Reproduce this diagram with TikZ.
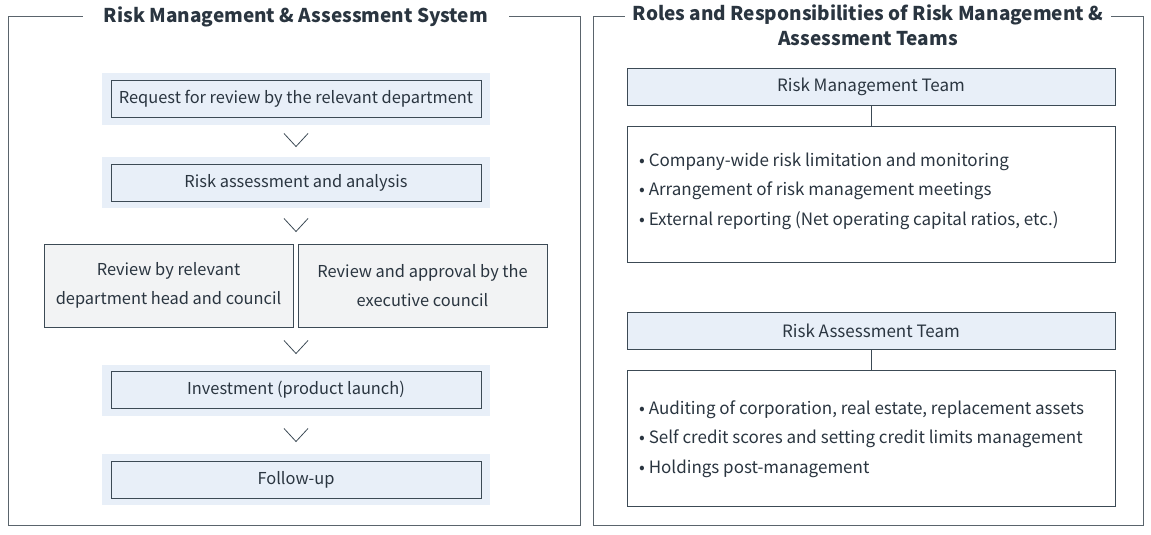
\documentclass[tikz,border=0pt]{standalone}
\usepackage{fontspec}
\setmainfont{Noto Sans CJK KR}
\definecolor{bluefill}{HTML}{E8EFF8}
\definecolor{greyfill}{HTML}{F2F3F4}
\definecolor{boxline}{HTML}{3C4A55}
\definecolor{frameline}{HTML}{5A646C}
\definecolor{txt}{HTML}{2A3540}
\begin{document}
\begin{tikzpicture}[x=1pt,y=-1pt,
  font=\fontsize{16.4}{20}\selectfont, text=txt,
  frame/.style={draw=frameline, line width=1pt},
  ttl/.style={fill=white, font=\fontsize{19}{25}\selectfont\bfseries, inner xsep=21pt, align=center},
  bluepad/.style={fill=bluefill, draw=none, minimum width=388pt, minimum height=51pt, inner sep=0pt},
  bluebox/.style={draw=boxline, line width=0.9pt, fill=bluefill, minimum width=370pt, minimum height=37pt, inner sep=0pt},
  greybox/.style={draw=boxline, line width=0.9pt, fill=greyfill, minimum width=249pt, minimum height=83pt, inner sep=0pt, align=center, font=\fontsize{16.4}{29}\selectfont},
  headbox/.style={draw=boxline, line width=0.9pt, fill=bluefill, minimum width=488pt, minimum height=37pt, inner sep=0pt, font=\fontsize{17}{20}\selectfont},
  bodybox/.style={draw=boxline, line width=0.9pt, fill=white, minimum width=488pt, minimum height=136pt, inner sep=0pt},
  bullets/.style={align=left, anchor=west, font=\fontsize{17}{29.5}\selectfont, inner sep=0pt},
  chev/.style={draw=boxline, line width=0.8pt},
  link/.style={draw=boxline, line width=0.8pt}]
\useasboundingbox (0,0) rectangle (1151,535);
% left frame
\draw[frame] (8,17) rectangle (580,525);
\node[ttl] (ltitle) at (296,17) {Risk Management \& Assessment System};
% right frame
\draw[frame] (593,17) rectangle (1143,525);
\node[ttl, inner xsep=8pt, inner ysep=1pt] (rtitle) at (868,25) {Roles and Responsibilities of Risk Management \&\\Assessment Teams};
% left flow
\node[bluepad] (p1) at (296,99) {};
\node[bluebox] (b1) at (296,99) {Request for review by the relevant department};
\node[bluepad] (p2) at (296,182.5) {};
\node[bluebox] (b2) at (296,182.5) {Risk assessment and analysis};
\node[greybox] (g1) at (168.5,285.5) {Review by relevant\\department head and council};
\node[greybox] (g2) at (422.5,285.5) {Review and approval by the\\executive council};
\node[bluepad] (p4) at (296,390) {};
\node[bluebox] (b4) at (296,390) {Investment (product launch)};
\node[bluepad] (p5) at (296,479.5) {};
\node[bluebox] (b5) at (296,479.5) {Follow-up};
% chevrons
\foreach \cy in {140,225,347,435}{
  \draw[chev] (284,\cy-6.5) -- (296,\cy+6.5) -- (308,\cy-6.5);
}
% right panel
\node[headbox] (h1) at (871,86.5) {Risk Management Team};
\node[bodybox] (d1) at (871,194) {};
\draw[link] (h1.south) -- (d1.north);
\node[bullets] (t1) at (639,191) {• Company-wide risk limitation and monitoring\\• Arrangement of risk management meetings\\• External reporting (Net operating capital ratios, etc.)};
\node[headbox] (h2) at (871,330.5) {Risk Assessment Team};
\node[bodybox] (d2) at (871,438.5) {};
\draw[link] (h2.south) -- (d2.north);
\node[bullets] (t2) at (639,439) {• Auditing of corporation, real estate, replacement assets\\• Self credit scores and setting credit limits management\\• Holdings post-management};
\end{tikzpicture}
\end{document}
